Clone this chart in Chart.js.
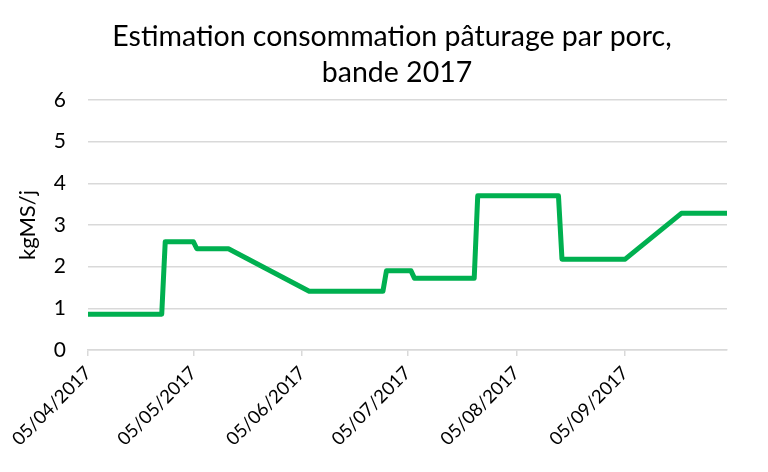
<!DOCTYPE html>
<html>
<head>
<meta charset="utf-8">
<script src="https://cdn.jsdelivr.net/npm/chart.js@4.4.1/dist/chart.umd.min.js"></script>
<style>
html,body{margin:0;padding:0;background:#fff;}
#wrap{width:768px;height:472px;}
</style>
</head>
<body>
<div id="wrap"><canvas id="c" width="768" height="472"></canvas></div>
<script>
// ---- data ----
const titleLines = ["Estimation consommation pâturage par porc,", "bande 2017"];
const yAxisTitle = "kgMS/j";
const dates = ["2017-04-05","2017-04-26","2017-04-27","2017-05-05","2017-05-06","2017-05-15",
               "2017-06-07","2017-06-28","2017-06-29","2017-07-06","2017-07-07","2017-07-24",
               "2017-07-25","2017-08-17","2017-08-18","2017-09-05","2017-09-21","2017-10-04"];
const values = [0.86,0.86,2.6,2.6,2.43,2.43,1.41,1.41,1.9,1.9,1.72,1.72,3.7,3.7,2.18,2.18,3.28,3.28];
const tickDates = ["2017-04-05","2017-05-05","2017-06-05","2017-07-05","2017-08-05","2017-09-05"];
const tickLabels = ["05/04/2017","05/05/2017","05/06/2017","05/07/2017","05/08/2017","05/09/2017"];
const yTicks = [0,1,2,3,4,5,6];

// ---- helpers ----
const DAY = 86400000;
const t0 = Date.parse(dates[0] + "T00:00:00Z");
const toDay = d => Math.round((Date.parse(d + "T00:00:00Z") - t0) / DAY);
const points = dates.map((d, i) => ({x: toDay(d), y: values[i]}));
const tickDays = tickDates.map(toDay);
const FONT = "Lato, 'Open Sans', sans-serif";

const titlePlugin = {
  id: 'twoLineTitle',
  afterDraw(chart) {
    const ctx = chart.ctx;
    ctx.save();
    ctx.fillStyle = '#000';
    ctx.font = "28.5px " + FONT;
    ctx.textAlign = 'center';
    ctx.textBaseline = 'alphabetic';
    ctx.fillText(titleLines[0], 392, 46);
    ctx.fillText(titleLines[1], 397, 82);
    ctx.restore();
  }
};

new Chart(document.getElementById('c'), {
  type: 'line',
  data: {
    datasets: [{
      data: points,
      borderColor: '#00B050',
      borderWidth: 5,
      pointRadius: 0,
      tension: 0,
      fill: false,
      borderJoinStyle: 'round',
      borderCapStyle: 'round'
    }]
  },
  options: {
    responsive: false,
    animation: false,
    events: [],
    layout: {padding: {top: 100, left: 0, right: 41, bottom: 0}},
    plugins: {legend: {display: false}, title: {display: false}, tooltip: {enabled: false}},
    scales: {
      x: {
        type: 'linear',
        min: 0,
        max: toDay("2017-10-04"),
        afterBuildTicks(scale) { scale.ticks = tickDays.map(v => ({value: v})); },
        afterFit(scale) { scale.height = 122; },
        ticks: {
          autoSkip: false,
          maxRotation: 45,
          minRotation: 45,
          color: '#000',
          font: {family: FONT, size: 18.5},
          padding: 6,
          callback(v) { const i = tickDays.indexOf(v); return i >= 0 ? tickLabels[i] : ''; }
        },
        grid: {display: true, drawOnChartArea: false, drawTicks: true, tickLength: 6, color: '#D9D9D9', lineWidth: 1.5},
        border: {display: true, color: '#D9D9D9', width: 1.5}
      },
      y: {
        min: 0,
        max: 6,
        afterBuildTicks(scale) { scale.ticks = yTicks.map(v => ({value: v})); },
        afterFit(scale) { scale.width = 88; },
        ticks: {color: '#000', font: {family: FONT, size: 21}, padding: 22},
        grid: {color: '#D9D9D9', lineWidth: 1.5, drawTicks: false},
        border: {display: false},
        title: {display: true, text: yAxisTitle, color: '#000', font: {family: FONT, size: 22}, padding: {top: 15, bottom: 0}}
      }
    }
  },
  plugins: [titlePlugin]
});
</script>
</body>
</html>
